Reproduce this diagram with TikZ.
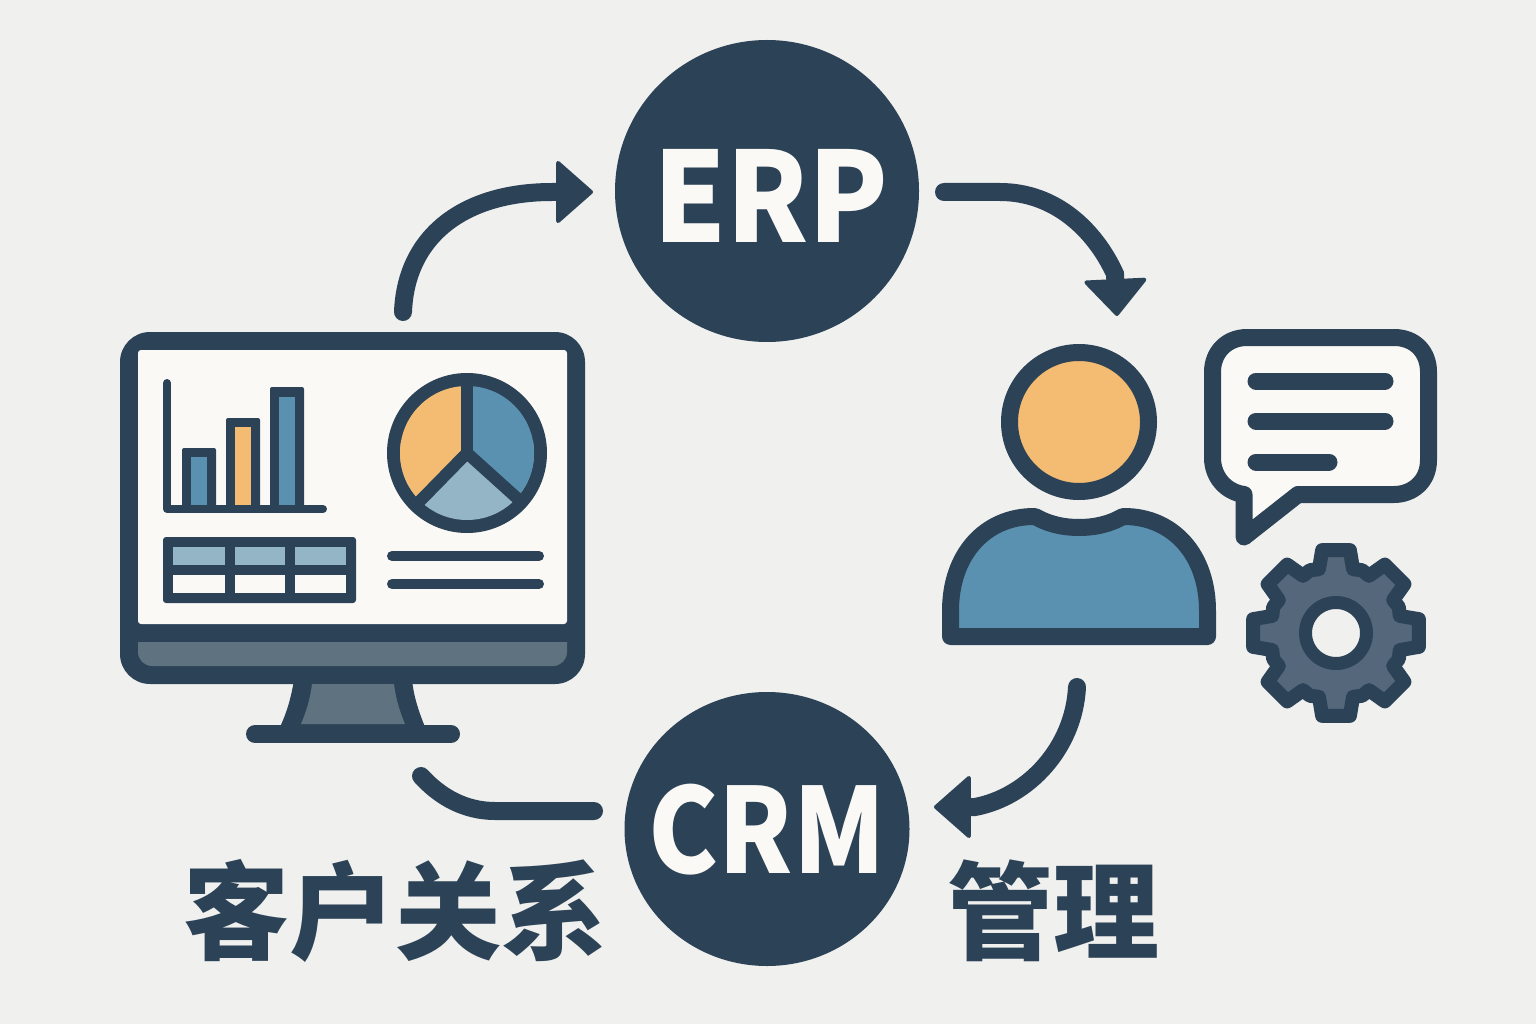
\documentclass[tikz,border=0pt]{standalone}
\usepackage{fontspec}
\usetikzlibrary{arrows.meta,shapes.geometric,calc}
\newfontfamily\cjk{Noto Sans CJK SC}
\newfontfamily\cjkheavy{Noto Sans CJK SC Black}
\definecolor{ink}{HTML}{2C4256}
\definecolor{bg}{HTML}{F0F0EF}
\definecolor{paper}{HTML}{FBF9F5}
\definecolor{amber}{HTML}{F4BB72}
\definecolor{steel}{HTML}{5A91B0}
\definecolor{pale}{HTML}{93B5C6}
\definecolor{slate}{HTML}{5E7280}
\definecolor{gearfill}{HTML}{55677A}
\tikzset{
  hub/.style={ellipse,fill=ink,text=paper,inner sep=0pt,font=\cjk\bfseries},
  flow/.style={draw=ink,line width=18pt,line cap=round},
  flowtip/.style={flow,-{Triangle[length=38pt,width=66pt,round,line width=4pt,fill=ink]}},
  stroke/.style={draw=ink,line width=17pt,line join=round},
  rule/.style={draw=ink,line cap=round},
  title/.style={text=ink,inner sep=0pt,anchor=base,font=\cjkheavy\fontsize{106}{106}\selectfont},
}
\begin{document}
\begin{tikzpicture}[x=1pt,y=-1pt]
\fill[bg] (0,0) rectangle (1536,1024);
\useasboundingbox (0,0) rectangle (1536,1024);

% hubs
\node[hub,minimum width=304pt,minimum height=302pt] (erp) at (767,191) {};
\node[hub,minimum width=285pt,minimum height=274pt] (crm) at (767,829) {};
\node[text=paper,inner sep=0pt,anchor=base,font=\cjk\bfseries\fontsize{125}{125}\selectfont] (erptext) at (771,243) {\scalebox{0.93}[1]{ERP}};
\node[text=paper,inner sep=0pt,anchor=base,font=\cjk\bfseries\fontsize{118}{118}\selectfont] (crmtext) at (767,873) {\scalebox{0.89}[1]{CRM}};

% titles
\node[title] (t1) at (395,951) {客户关系};
\node[title] (t2) at (1053,951) {管理};

% monitor
\fill[ink,rounded corners=30pt] (120,332) rectangle (585,684);
\fill[paper,rounded corners=3pt] (138,350) rectangle (567,624);
\fill[slate] (138,642) -- (567,642) -- (567,652) arc[start angle=0,end angle=-90,radius=14pt] -- (152,666) arc[start angle=-90,end angle=-180,radius=14pt] -- cycle;
\fill[ink] (294,680) .. controls (291,698) and (287,712) .. (280,727) -- (425,727) .. controls (419,712) and (414,698) .. (412,680) -- cycle;
\fill[slate] (312,684) -- (394,684) .. controls (396,700) and (400,712) .. (405,724) -- (301,724) .. controls (306,712) and (310,700) .. (312,684) -- cycle;
\draw[rule,line width=18pt] (255,734) -- (451,734);

% bar chart
\draw[rule,line width=8pt,line join=round] (167,383) -- (167,509) -- (323,509);
\fill[ink,rounded corners=2pt] (182,448) rectangle (216,510);
\fill[steel] (191,457) rectangle (207,505);
\fill[ink,rounded corners=2pt] (226,418) rectangle (260,510);
\fill[amber] (234.5,427) rectangle (251,505);
\fill[ink,rounded corners=2pt] (270,387) rectangle (304,510);
\fill[steel] (279,397) rectangle (295,505);

% pie
\coordinate (pc) at (467,453);
\fill[ink] (pc) circle[radius=80pt];
\begin{scope}
\clip (pc) circle[radius=67pt];
\fill[pale] (385,440) rectangle (550,530);
\fill[amber] (467,453) -- (467,370) -- (360,370) -- (360,560) -- cycle;
\fill[steel] (467,453) -- (467,370) -- (575,370) -- (575,550) -- cycle;
\end{scope}
\draw[ink,line width=12pt,line join=round] (467,375) -- (pc);
\draw[ink,line width=12pt,line join=round] (419,502) -- (pc) -- (518,499);

% table
\fill[ink,rounded corners=3pt] (163,537) rectangle (356,603);
\foreach \xa/\xb in {173/225,235/285,295/346}{
  \fill[pale] (\xa,547) rectangle (\xb,565);
  \fill[paper] (\xa,575) rectangle (\xb,593);
}
\draw[rule,line width=10pt] (392,556) -- (539,556);
\draw[rule,line width=10pt] (392,584) -- (539,584);

% person
\draw[stroke,fill=amber] (1079,422) circle[radius=69.5pt];
\draw[stroke,fill=steel] (950.5,636.5) -- (950.5,612) .. controls (950,555) and (985,516) .. (1035,516.5) .. controls (1050,525) and (1065,527.5) .. (1079,527.5) .. controls (1093,527.5) and (1108,525) .. (1123,516.5) .. controls (1173,516) and (1208,555) .. (1207.5,612) -- (1207.5,636.5) -- cycle;

% speech bubble
\draw[stroke,fill=paper] (1247,337.5) -- (1394,337.5) .. controls (1415,337.5) and (1428.5,352) .. (1428.5,372) -- (1428.5,460) .. controls (1428.5,482) and (1412,494.5) .. (1394,494.5) -- (1298,494.5) -- (1244,537) -- (1244,494.5) .. controls (1225,492) and (1212.5,476) .. (1212.5,458) -- (1212.5,372) .. controls (1212.5,352) and (1227,337.5) .. (1247,337.5) -- cycle;
\draw[rule,line width=17pt] (1256,381) -- (1385,381);
\draw[rule,line width=17pt] (1256,421) -- (1385,421);
\draw[rule,line width=17pt] (1256,462) -- (1329,462);

% gear
\begin{scope}[shift={(1336,633)}]
\draw[draw=ink,line width=14pt,line join=round,fill=gearfill]
  (-15:66)
  \foreach \a in {0,45,...,315}{
    -- (\a-15:66) -- (\a-9.5:84) -- (\a+9.5:84) -- (\a+15:66) -- (\a+22.5:68)
  } -- cycle;
\draw[draw=ink,line width=13pt,fill=bg] (0,0) circle[radius=30.5pt];
\end{scope}

% connectors
\coordinate (c1s) at (403,312);
\coordinate (c1m) at (552,192);
\coordinate (c1e) at (593,192);
\coordinate (c2s) at (944,192);
\coordinate (c2m) at (1115,274);
\coordinate (c2e) at (1117,316);
\coordinate (c3s) at (1077,687);
\coordinate (c3m) at (975,807);
\coordinate (c3e) at (934,807);
\coordinate (c4s) at (594,811);
\coordinate (c4e) at (421,776);
\draw[flowtip] (c1s) .. controls (406,235) and (465,192) .. (c1m) -- (c1e);
\draw[flowtip] (c2s) -- (1000,192) .. controls (1055,192) and (1095,230) .. (c2m) -- (c2e);
\draw[flowtip] (c3s) .. controls (1074,748) and (1028,797) .. (c3m) -- (c3e);
\draw[flow] (c4s) -- (495,811) .. controls (465,811) and (440,797) .. (c4e);
\end{tikzpicture}
\end{document}
